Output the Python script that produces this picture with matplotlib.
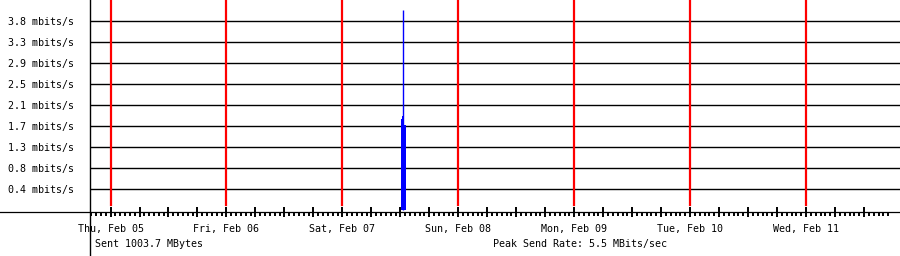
from datetime import datetime, timedelta

import matplotlib
matplotlib.use("Agg")
from matplotlib import pyplot as plt
import matplotlib.dates as mdates

# sampled send rate around the only burst of the week (mbits/s)
times = [
    datetime(2015, 2, 7, 11, 50),
    datetime(2015, 2, 7, 12, 10),
    datetime(2015, 2, 7, 12, 20),
    datetime(2015, 2, 7, 12, 38),
    datetime(2015, 2, 7, 13, 12),
]
rates = [0.0, 1.81, 1.87, 1.69, 0.0]

peak_time = datetime(2015, 2, 7, 12, 27)
peak_rate = 3.97

y_ticks = [i * 5 / 12 for i in range(1, 10)]
y_labels = ["0.4 mbits/s", "0.8 mbits/s", "1.3 mbits/s", "1.7 mbits/s", "2.1 mbits/s",
            "2.5 mbits/s", "2.9 mbits/s", "3.3 mbits/s", "3.8 mbits/s"]

days = [datetime(2015, 2, 5) + timedelta(days=i) for i in range(7)]
day_labels = ["Thu, Feb 05", "Fri, Feb 06", "Sat, Feb 07", "Sun, Feb 08",
              "Mon, Feb 09", "Tue, Feb 10", "Wed, Feb 11"]

sent_text = "Sent 1003.7 MBytes"
peak_text = "Peak Send Rate: 5.5 MBits/sec"

plt.rcParams['font.family'] = ['DejaVu Sans Mono']
FS = 7.2
W, H = 900, 256
BASE = 211.5          # baseline, px from top
STEP = 21.0           # px per grid step
UNIT = 5 / 12         # mbits/s per grid step

fig = plt.figure(figsize=(W / 100, H / 100), dpi=100)
fig.patch.set_facecolor('white')
ax = fig.add_axes([90 / W, (H - BASE) / H, 810 / W, BASE / H])

x0 = datetime(2015, 2, 4, 19, 45)
x1 = datetime(2015, 2, 11, 19, 27)
ax.set_xlim(x0, x1)
ymin = -1.2 / STEP * UNIT
ax.set_ylim(ymin, (BASE - 1.2) / STEP * UNIT)

for s in ax.spines.values():
    s.set_visible(False)

# horizontal grid
for y in y_ticks:
    ax.axhline(y, color='black', lw=1.0, zorder=1)
ax.set_yticks(y_ticks)
ax.set_yticklabels(y_labels, fontsize=FS)
ax.tick_params(axis='y', length=0, pad=11.5)

# day separators
for d in days:
    ax.axvline(d, ymin=6.2 / BASE, ymax=1, color='red', lw=1.6, zorder=2)

# traffic
ax.fill_between(times, rates, step='post', color='blue', lw=0, zorder=3)
ax.vlines(peak_time, 0, peak_rate, color='#0000ff', lw=1.0, zorder=5)

# base line and left axis
ax.axhline(ymin, xmin=-90 / 810, xmax=1, color='black', lw=0.9, clip_on=False, zorder=4)
ax.axvline(x0, ymin=-(H - BASE) / BASE, ymax=1, color='black', lw=1.0, clip_on=False, zorder=4)

# hour ticks
hours = [datetime(2015, 2, 4, 20) + timedelta(hours=h) for h in range(166)]
six = [h for h in hours if h.hour % 6 == 0]
ax.set_xticks(mdates.date2num(six))
ax.set_xticks(mdates.date2num(hours), minor=True)
ax.set_xticklabels([])
ax.tick_params(axis='x', which='major', direction='inout', length=7.5, width=1.4, color='black')
ax.tick_params(axis='x', which='minor', direction='out', length=3.0, width=1.4, color='black')

for d, lab in zip(days, day_labels):
    fig.text(ax.transData.transform((mdates.date2num(d), 0))[0] / W, (H - 232) / H, lab,
             ha='center', va='baseline', fontsize=FS)

fig.text(95 / W, (H - 247) / H, sent_text, ha='left', va='baseline', fontsize=FS)
fig.text(493 / W, (H - 247) / H, peak_text, ha='left', va='baseline', fontsize=FS)

fig.savefig("out.png", dpi=100, facecolor='white')
